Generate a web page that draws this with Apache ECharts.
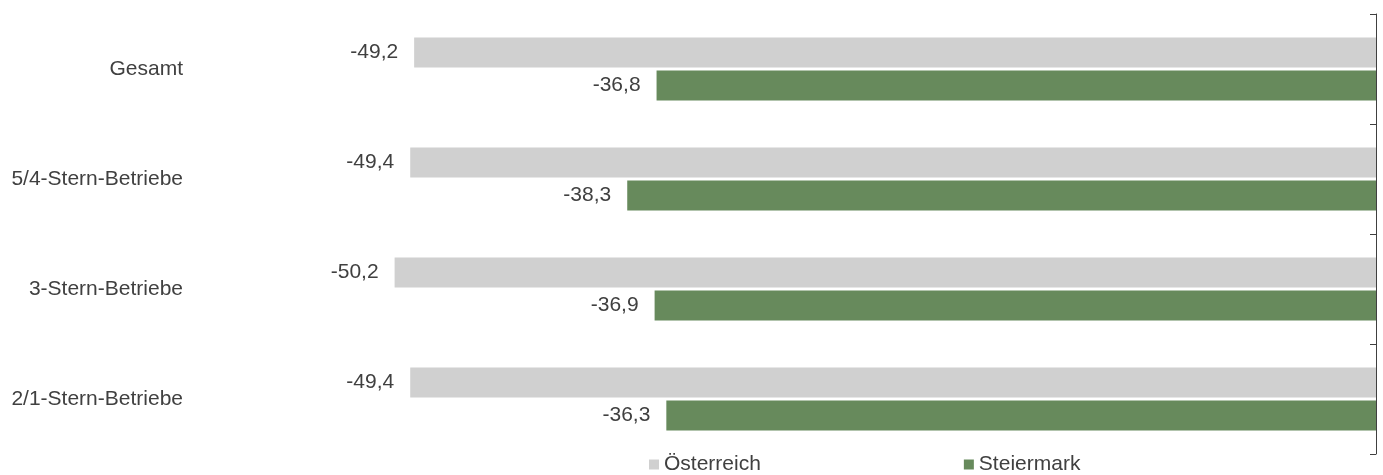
<!DOCTYPE html>
<html>
<head>
<meta charset="utf-8">
<script src="https://cdn.jsdelivr.net/npm/echarts@6/dist/echarts.min.js"></script>
<style>
  html, body { margin: 0; padding: 0; background: #fff; }
  #chart { width: 1383px; height: 475px; }
</style>
</head>
<body>
<div id="chart"></div>
<script>
// data
const categories = ["Gesamt", "5/4-Stern-Betriebe", "3-Stern-Betriebe", "2/1-Stern-Betriebe"];
const oesterreich = [-49.2, -49.4, -50.2, -49.4];
const steiermark = [-36.8, -38.3, -36.9, -36.3];

const fmt = p => String(p.value).replace(".", ",");

let myChart = echarts.init(document.getElementById("chart"));
myChart.setOption({
  textStyle: { fontFamily: "Liberation Sans, Arial, sans-serif" },
  grid: { left: 203, right: 7, top: 14, bottom: 21 },
  legend: {
    top: 449,
    left: 644,
    itemWidth: 10,
    itemHeight: 10,
    itemGap: 203,
    icon: "rect",
    textStyle: { fontSize: 21, color: "#404040" },
    data: ["Österreich", "Steiermark"]
  },
  xAxis: {
    type: "value",
    min: -60,
    max: 0,
    show: false
  },
  yAxis: [
    {
      type: "category",
      data: categories,
      inverse: true,
      position: "right",
      axisLine: { show: true, lineStyle: { color: "#404040", width: 1 } },
      axisTick: { show: true, interval: 0, inside: true, length: 6, lineStyle: { color: "#404040", width: 1 } },
      axisLabel: { show: false }
    },
    {
      type: "category",
      data: categories,
      inverse: true,
      position: "left",
      axisLine: { show: false },
      axisTick: { show: false },
      axisLabel: { fontSize: 21, color: "#404040", margin: 20 }
    }
  ],
  series: [
    {
      name: "Österreich",
      type: "bar",
      data: oesterreich,
      barWidth: 30,
      barGap: "10%",
      itemStyle: { color: "#D0D0D0" },
      label: { show: true, position: "left", distance: 16, fontSize: 21, color: "#404040", formatter: fmt }
    },
    {
      name: "Steiermark",
      type: "bar",
      data: steiermark,
      barWidth: 30,
      barGap: "10%",
      itemStyle: { color: "#678A5C" },
      label: { show: true, position: "left", distance: 16, fontSize: 21, color: "#404040", formatter: fmt }
    }
  ]
});
</script>
</body>
</html>
